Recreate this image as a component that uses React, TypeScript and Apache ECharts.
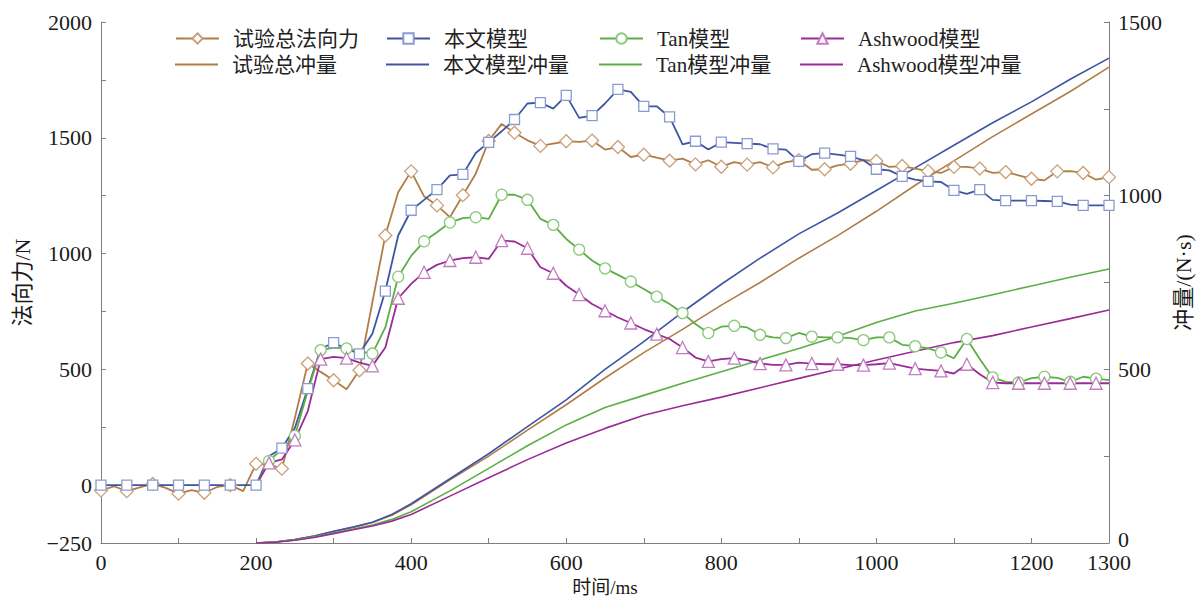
import { useEffect, useRef } from "react";
import * as echarts from "echarts";

// time stamps of the force samples (ms)
const TIME = [
  0, 16.7, 33.3, 50, 66.7, 83.3, 100, 116.7, 133.3, 150, 166.7, 183.3, 200, 216.7, 233.3, 250,
  266.7, 283.3, 300, 316.7, 333.3, 350, 366.7, 383.3, 400, 416.7, 433.3, 450, 466.7, 483.3, 500,
  516.7, 533.3, 550, 566.7, 583.3, 600, 616.7, 633.3, 650, 666.7, 683.3, 700, 716.7, 733.3, 750,
  766.7, 783.3, 800, 816.7, 833.3, 850, 866.7, 883.3, 900, 916.7, 933.3, 950, 966.7, 983.3, 1000,
  1016.7, 1033.3, 1050, 1066.7, 1083.3, 1100, 1116.7, 1133.3, 1150, 1166.7, 1183.3, 1200, 1216.7,
  1233.3, 1250, 1266.7, 1283.3, 1300,
];

const TEST_FORCE = [
  -23, -5, -26, -10, 5, -12, -37, -22, -33, -8, 0, -26, 92, 88, 71, 290, 525, 489, 453, 414, 496,
  790, 1078, 1265, 1355, 1247, 1208, 1157, 1252, 1345, 1486, 1560, 1522, 1489, 1465, 1475, 1485,
  1482, 1488, 1449, 1460, 1417, 1427, 1414, 1401, 1410, 1385, 1403, 1375, 1395, 1384, 1395, 1372,
  1395, 1403, 1362, 1364, 1381, 1388, 1403, 1400, 1374, 1378, 1367, 1356, 1348, 1374, 1374, 1367,
  1348, 1352, 1338, 1323, 1316, 1355, 1356, 1348, 1319, 1330,
];

const MODEL_FORCE = [
  0, 0, 0, 0, 0, 0, 0, 0, 0, 0, 0, 0, 0, 125, 160, 247, 417, 589, 615, 589, 567, 654, 838, 1078,
  1187, 1232, 1276, 1338, 1342, 1434, 1480, 1528, 1579, 1648, 1652, 1626, 1683, 1586, 1596, 1648,
  1709, 1698, 1636, 1636, 1590, 1472, 1485, 1449, 1481, 1478, 1475, 1472, 1452, 1449, 1398, 1429,
  1434, 1427, 1420, 1403, 1364, 1359, 1333, 1319, 1312, 1309, 1273, 1258, 1276, 1232, 1229, 1229,
  1229, 1227, 1225, 1211, 1208, 1208, 1208,
];

// Tan / Ashwood samples start at 200 ms (TIME index 12)
const TAN_FORCE = [
  0, 104, 156, 212, 407, 583, 594, 590, 577, 568, 681, 900, 990, 1053, 1092, 1134, 1153, 1157,
  1150, 1254, 1254, 1232, 1150, 1124, 1063, 1017, 970, 936, 908, 879, 847, 814, 782, 743, 696, 657,
  684, 688, 681, 649, 638, 635, 657, 641, 638, 638, 635, 626, 638, 638, 606, 600, 590, 573, 548,
  631, 545, 465, 446, 443, 462, 468, 463, 446, 468, 460, 453,
];

const ASH_FORCE = [
  0, 96, 111, 195, 320, 544, 554, 548, 529, 515, 594, 807, 869, 919, 951, 970, 980, 984, 977, 1056,
  1052, 1023, 941, 915, 861, 823, 782, 753, 724, 700, 674, 652, 631, 594, 551, 534, 544, 548, 540,
  525, 519, 519, 529, 525, 522, 522, 518, 518, 522, 527, 515, 503, 498, 493, 482, 522, 479, 443,
  440, 440, 440, 440, 440, 440, 440, 440, 440,
];

const IMP_TIME = [
  200, 225, 250, 275, 300, 325, 350, 375, 400, 450, 500, 550, 600, 650, 700, 750, 800, 850, 900,
  950, 1000, 1050, 1100, 1150, 1200, 1250, 1300,
];
const TEST_IMP = [
  0, 3, 10, 20, 33, 45, 59, 80, 110, 182, 250, 325, 398, 475, 548, 615, 685, 750, 820, 885, 955,
  1030, 1100, 1170, 1235, 1300, 1370,
];
const MODEL_IMP = [
  0, 3, 10, 20, 34, 46, 60, 82, 113, 185, 257, 335, 412, 500, 580, 665, 745, 820, 890, 950, 1015,
  1080, 1145, 1210, 1270, 1335, 1396,
];
const TAN_IMP = [
  0, 3, 9, 18, 29, 40, 52, 68, 90, 150, 215, 280, 340, 390, 425, 460, 493, 527, 560, 595, 635, 668,
  690, 715, 740, 765, 789,
];
const ASH_IMP = [
  0, 2, 8, 16, 27, 38, 49, 63, 82, 135, 188, 240, 288, 330, 368, 395, 420, 447, 474, 500, 527, 552,
  577, 597, 622, 646, 671,
];

const FONT = "'Liberation Serif', 'Times New Roman', 'Noto Sans CJK SC', serif";

const C_TEST = "#b17d46";
const C_MODEL = "#3d55a3";
const C_TAN = "#5cae45";
const C_ASH = "#9b2b97";
const M_TEST = "#c9a07a";
const M_MODEL = "#8b9bcf";
const M_TAN = "#8dc97c";
const M_ASH = "#c27cc0";

function forceData(times: number[], values: number[], parity: number) {
  return values.map((v, i) => {
    const item: any = { value: [times[i], v] };
    if (i % 2 !== parity) item.symbol = "none";
    return item;
  });
}

function impData(values: number[]) {
  return IMP_TIME.map((t, i) => [t, values[i]]);
}

export default function App() {
  const ref = useRef<HTMLDivElement>(null);

  useEffect(() => {
    if (!ref.current) return;
    const chart = echarts.init(ref.current, undefined, { renderer: "svg" });

    const forceSeries = (
      name: string,
      data: any[],
      symbol: string,
      size: number,
      line: string,
      marker: string
    ) => ({
      name,
      type: "line",
      yAxisIndex: 0,
      data,
      symbol,
      symbolSize: size,
      showSymbol: true,
      color: line,
      lineStyle: { color: line, width: 1.8 },
      itemStyle: { color: "#ffffff", borderColor: marker, borderWidth: 1.3 },
      z: 3,
    });

    const impSeries = (name: string, values: number[], color: string) => ({
      name,
      type: "line",
      yAxisIndex: 1,
      data: impData(values),
      symbol: "none",
      color,
      itemStyle: { color },
      lineStyle: { color, width: 1.6 },
      z: 2,
    });

    const legendPos = [
      { name: "试验总法向力", left: 175, top: 28, imp: false },
      { name: "本文模型", left: 386, top: 28, imp: false },
      { name: "Tan模型", left: 599, top: 28, imp: false },
      { name: "Ashwood模型", left: 800, top: 28, imp: false },
      { name: "试验总冲量", left: 175, top: 54, imp: true },
      { name: "本文模型冲量", left: 386, top: 54, imp: true },
      { name: "Tan模型冲量", left: 599, top: 54, imp: true },
      { name: "Ashwood模型冲量", left: 800, top: 54, imp: true },
    ];

    const axisColor = "#7f7f7f";
    const labelStyle = { fontSize: 22, fontFamily: FONT, color: "#1a1a1a" };

    const option: any = {
      animation: false,
      backgroundColor: "#ffffff",
      grid: {
        left: 101,
        right: 89,
        top: 22,
        bottom: 55,
        containLabel: false,
        outerBoundsMode: "none",
      },
      legend: legendPos.map((l) => ({
        data: l.imp ? [{ name: l.name, icon: "rect" }] : [l.name],
        left: l.left,
        top: l.top,
        padding: 0,
        itemWidth: 43,
        itemHeight: l.imp ? 2 : 13,
        selectedMode: false,
        textStyle: { fontSize: 21, fontFamily: FONT, color: "#222", padding: [0, 0, 0, 9] },
      })),
      xAxis: {
        type: "value",
        min: 0,
        max: 1300,
        interval: 100,
        name: "时间/ms",
        nameLocation: "middle",
        nameGap: 26,
        nameTextStyle: { fontSize: 19, fontFamily: FONT, color: "#1a1a1a" },
        axisLine: { onZero: false, lineStyle: { color: axisColor, width: 1 } },
        axisTick: { inside: true, length: 5, lineStyle: { color: axisColor } },
        axisLabel: {
          ...labelStyle,
          margin: 8,
          formatter: (v: number) => (v % 200 === 0 || v === 1300 ? String(v) : ""),
        },
        splitLine: { show: false },
      },
      yAxis: [
        {
          type: "value",
          position: "left",
          min: -250,
          max: 2000,
          interval: 250,
          name: "法向力/N",
          nameLocation: "middle",
          nameGap: 68,
          nameTextStyle: { fontSize: 22, fontFamily: FONT, color: "#1a1a1a" },
          axisLine: { show: true, onZero: false, lineStyle: { color: axisColor, width: 1 } },
          axisTick: { show: true, inside: true, length: 5, lineStyle: { color: axisColor } },
          axisLabel: {
            ...labelStyle,
            margin: 9,
            formatter: (v: number) =>
              v === -250 ? "\u2212250" : v % 500 === 0 ? String(v) : "",
          },
          splitLine: { show: false },
        },
        {
          type: "value",
          position: "right",
          min: 0,
          max: 1500,
          interval: 250,
          name: "冲量/(N·s)",
          nameLocation: "middle",
          nameGap: 60,
          nameTextStyle: { fontSize: 22, fontFamily: FONT, color: "#1a1a1a" },
          axisLine: { show: true, onZero: false, lineStyle: { color: axisColor, width: 1 } },
          axisTick: { show: true, inside: true, length: 5, lineStyle: { color: axisColor } },
          axisLabel: {
            ...labelStyle,
            margin: 9,
            formatter: (v: number) => (v === 0 ? "{z|0}" : v % 500 === 0 ? String(v) : ""),
            rich: {
              z: { fontSize: 22, fontFamily: FONT, color: "#1a1a1a", padding: [0, 0, 8, 0] },
            },
          },
          splitLine: { show: false },
        },
      ],
      series: [
        forceSeries("试验总法向力", forceData(TIME, TEST_FORCE, 0), "diamond", 13, C_TEST, M_TEST),
        forceSeries("本文模型", forceData(TIME, MODEL_FORCE, 0), "rect", 10, C_MODEL, M_MODEL),
        forceSeries("Tan模型", forceData(TIME.slice(12), TAN_FORCE, 1), "circle", 11, C_TAN, M_TAN),
        forceSeries("Ashwood模型", forceData(TIME.slice(12), ASH_FORCE, 1), "triangle", 12, C_ASH, M_ASH),
        impSeries("试验总冲量", TEST_IMP, C_TEST),
        impSeries("本文模型冲量", MODEL_IMP, C_MODEL),
        impSeries("Tan模型冲量", TAN_IMP, C_TAN),
        impSeries("Ashwood模型冲量", ASH_IMP, C_ASH),
      ],
    };

    chart.setOption(option);
    return () => chart.dispose();
  }, []);

  return (
    <div
      ref={ref}
      style={{ position: "fixed", left: 0, top: 0, width: 1198, height: 598, background: "#fff" }}
    />
  );
}
